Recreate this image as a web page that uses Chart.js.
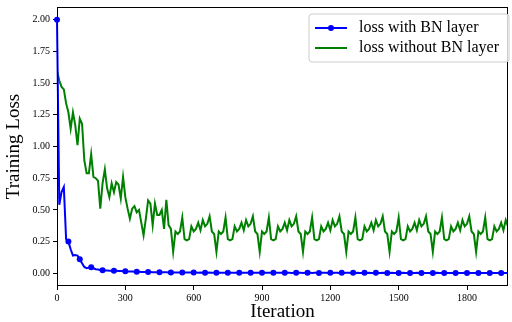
<!DOCTYPE html>
<html>
<head>
<meta charset="utf-8">
<title>Training loss with and without BN</title>
<script src="https://cdn.jsdelivr.net/npm/chart.js@4/dist/chart.umd.min.js"></script>
<style>html,body{margin:0;padding:0;background:#fff}</style>
</head>
<body>
<canvas id="lossChart" width="512" height="322"></canvas>
<script>
// one sample every 10 iterations, markers on the BN curve every 5th sample
var iterStep = 10;
var markEvery = 5;
var seriesNames = ['loss with BN layer', 'loss without BN layer'];
var xTicks = [0, 300, 600, 900, 1200, 1500, 1800];
var yTicks = [0, 0.25, 0.5, 0.75, 1.0, 1.25, 1.5, 1.75, 2.0];

var lossBN = [
  2.00,0.54,0.64,0.68,0.27,0.25,0.19,0.14,0.145,0.14,
  0.11,0.08,0.05,0.04,0.045,0.047,0.04,0.032,0.03,0.026,
  0.024,0.023,0.022,0.021,0.021,0.020,0.020,0.019,0.018,0.017,
  0.016,0.015,0.015,0.014,0.013,0.012,0.012,0.011,0.011,0.010,
  0.010,0.010,0.009,0.009,0.009,0.008,0.008,0.008,0.008,0.007,
  0.007,0.007,0.007,0.007,0.006,0.006,0.006,0.006,0.006,0.006,
  0.006,0.006,0.005,0.006,0.005,0.005,0.005,0.006,0.005,0.005,
  0.005,0.005,0.005,0.005,0.004,0.005,0.005,0.005,0.004,0.005,
  0.005,0.004,0.005,0.004,0.004,0.005,0.004,0.004,0.004,0.005,
  0.004,0.004,0.004,0.004,0.004,0.004,0.005,0.004,0.004,0.004,
  0.004,0.004,0.004,0.003,0.004,0.004,0.004,0.004,0.003,0.004,
  0.004,0.004,0.003,0.004,0.004,0.003,0.004,0.004,0.004,0.003,
  0.004,0.003,0.004,0.004,0.003,0.004,0.003,0.004,0.004,0.003,
  0.004,0.003,0.004,0.003,0.003,0.004,0.003,0.004,0.003,0.003,
  0.004,0.003,0.003,0.004,0.003,0.003,0.003,0.004,0.003,0.003,
  0.003,0.003,0.004,0.003,0.003,0.003,0.003,0.003,0.004,0.003,
  0.003,0.003,0.003,0.003,0.003,0.003,0.003,0.004,0.003,0.003,
  0.003,0.003,0.003,0.003,0.003,0.003,0.003,0.003,0.003,0.004,
  0.003,0.003,0.003,0.003,0.003,0.003,0.003,0.003,0.003,0.003,
  0.003,0.003,0.003,0.003,0.003,0.003,0.003,0.003,0.003
];

var lossNoBN = [
  1.60,1.52,1.47,1.45,1.34,1.27,1.14,1.27,1.17,1.01,
  1.22,1.18,0.89,0.79,0.79,0.94,0.76,0.75,0.73,0.51,
  0.71,0.82,0.67,0.60,0.71,0.64,0.72,0.70,0.59,0.76,
  0.60,0.51,0.43,0.51,0.53,0.48,0.50,0.40,0.30,0.43,
  0.575,0.55,0.38,0.55,0.46,0.46,0.50,0.35,0.58,0.38,
  0.35,
  0.17,0.33,0.31,0.33,0.44,0.27,0.26,0.27,0.37,0.33,0.35,0.40,0.34,0.42,0.37,0.39,0.45,0.33,0.31,
  0.17,0.33,0.31,0.33,0.44,0.27,0.26,0.27,0.37,0.33,0.35,0.40,0.34,0.42,0.37,0.39,0.45,0.33,0.31,
  0.17,0.33,0.31,0.33,0.44,0.27,0.26,0.27,0.37,0.33,0.35,0.40,0.34,0.42,0.37,0.39,0.45,0.33,0.31,
  0.17,0.33,0.31,0.33,0.44,0.27,0.26,0.27,0.37,0.33,0.35,0.40,0.34,0.42,0.37,0.39,0.45,0.33,0.31,
  0.17,0.33,0.31,0.33,0.44,0.27,0.26,0.27,0.37,0.33,0.35,0.40,0.34,0.42,0.37,0.39,0.45,0.33,0.31,
  0.17,0.33,0.31,0.33,0.44,0.27,0.26,0.27,0.37,0.33,0.35,0.40,0.34,0.42,0.37,0.39,0.45,0.33,0.31,
  0.17,0.33,0.31,0.33,0.44,0.27,0.26,0.27,0.37,0.33,0.35,0.40,0.34,0.42,0.37,0.39,0.45,0.33,0.31,
  0.17,0.33,0.31,0.33,0.44,0.27,0.26,0.27,0.37,0.33,0.35,0.40,0.34,0.42,0.37
];

var serif = 'Liberation Serif';

function toPoints(arr){
  return arr.map(function(v, i){ return {x: i * iterStep, y: v}; });
}

// matplotlib-like frame + legend box
var framePlugin = {
  id: 'frame',
  afterDatasetsDraw: function(chart){
    var ctx = chart.ctx, a = chart.chartArea;
    ctx.save();
    ctx.strokeStyle = '#000';
    ctx.lineWidth = 1;
    ctx.strokeRect(a.left + 0.5, a.top + 0.5, a.right - a.left - 1, a.bottom - a.top - 1);

    // legend
    var lx = 309, ly = 14, lw = 200, lh = 48, r = 3;
    ctx.beginPath();
    ctx.moveTo(lx + r, ly);
    ctx.arcTo(lx + lw, ly, lx + lw, ly + lh, r);
    ctx.arcTo(lx + lw, ly + lh, lx, ly + lh, r);
    ctx.arcTo(lx, ly + lh, lx, ly, r);
    ctx.arcTo(lx, ly, lx + lw, ly, r);
    ctx.closePath();
    ctx.fillStyle = 'rgba(255,255,255,0.8)';
    ctx.fill();
    ctx.strokeStyle = '#cccccc';
    ctx.stroke();

    var ds = chart.data.datasets;
    var rows = [ly + 14, ly + 34];
    ds.forEach(function(d, i){
      var y = rows[i];
      ctx.strokeStyle = d.borderColor;
      ctx.lineWidth = 2;
      ctx.beginPath();
      ctx.moveTo(315, y);
      ctx.lineTo(347, y);
      ctx.stroke();
      if (i === 0) {
        ctx.fillStyle = d.borderColor;
        ctx.beginPath();
        ctx.arc(331, y, 3, 0, Math.PI * 2);
        ctx.fill();
      }
      ctx.fillStyle = '#000';
      ctx.font = '16px "' + serif + '"';
      ctx.textBaseline = 'middle';
      ctx.textAlign = 'left';
      ctx.fillText(d.label, 359, y);
    });
    ctx.restore();
  }
};

new Chart(document.getElementById('lossChart'), {
  type: 'line',
  data: {
    datasets: [{
      label: seriesNames[0],
      data: toPoints(lossBN),
      borderColor: '#0000ff',
      backgroundColor: '#0000ff',
      borderWidth: 2,
      pointRadius: function(c){ return c.dataIndex % markEvery === 0 ? 3 : 0; },
      pointBorderWidth: 0,
      clip: false,
      tension: 0
    }, {
      label: seriesNames[1],
      data: toPoints(lossNoBN),
      borderColor: '#008000',
      backgroundColor: '#008000',
      borderWidth: 2,
      pointRadius: 0,
      tension: 0
    }]
  },
  options: {
    responsive: false,
    animation: false,
    events: [],
    layout: {padding: {top: 7, right: 0, left: 0, bottom: 0}},
    plugins: {legend: {display: false}, tooltip: {enabled: false}},
    scales: {
      x: {
        type: 'linear',
        min: 0,
        max: 1980,
        afterFit: function(s){ s.height = 36; s.paddingRight = 0; },
        afterBuildTicks: function(s){ s.ticks = xTicks.map(function(v){ return {value: v}; }); },
        grid: {drawOnChartArea: false, tickLength: 4, tickColor: '#000'},
        border: {display: false},
        ticks: {color: '#000', font: {family: serif, size: 10}, maxRotation: 0, padding: 2,
                callback: function(v){ return String(v); }},
        title: {display: true, text: 'Iteration', color: '#000',
                font: {family: serif, size: 19, lineHeight: 1}, padding: {top: 0, bottom: 0}}
      },
      y: {
        min: -0.1,
        max: 2.1,
        afterFit: function(s){ s.width = 57; s.paddingTop = 0; },
        afterBuildTicks: function(s){ s.ticks = yTicks.map(function(v){ return {value: v}; }); },
        grid: {drawOnChartArea: false, tickLength: 4, tickColor: '#000'},
        border: {display: false},
        ticks: {color: '#000', font: {family: serif, size: 10}, padding: 3,
                callback: function(v){ return Number(v).toFixed(2); }},
        title: {display: true, text: 'Training Loss', color: '#000',
                font: {family: serif, size: 19, lineHeight: 1}, padding: {top: 5, bottom: 0}}
      }
    }
  },
  plugins: [framePlugin]
});
</script>
</body>
</html>
